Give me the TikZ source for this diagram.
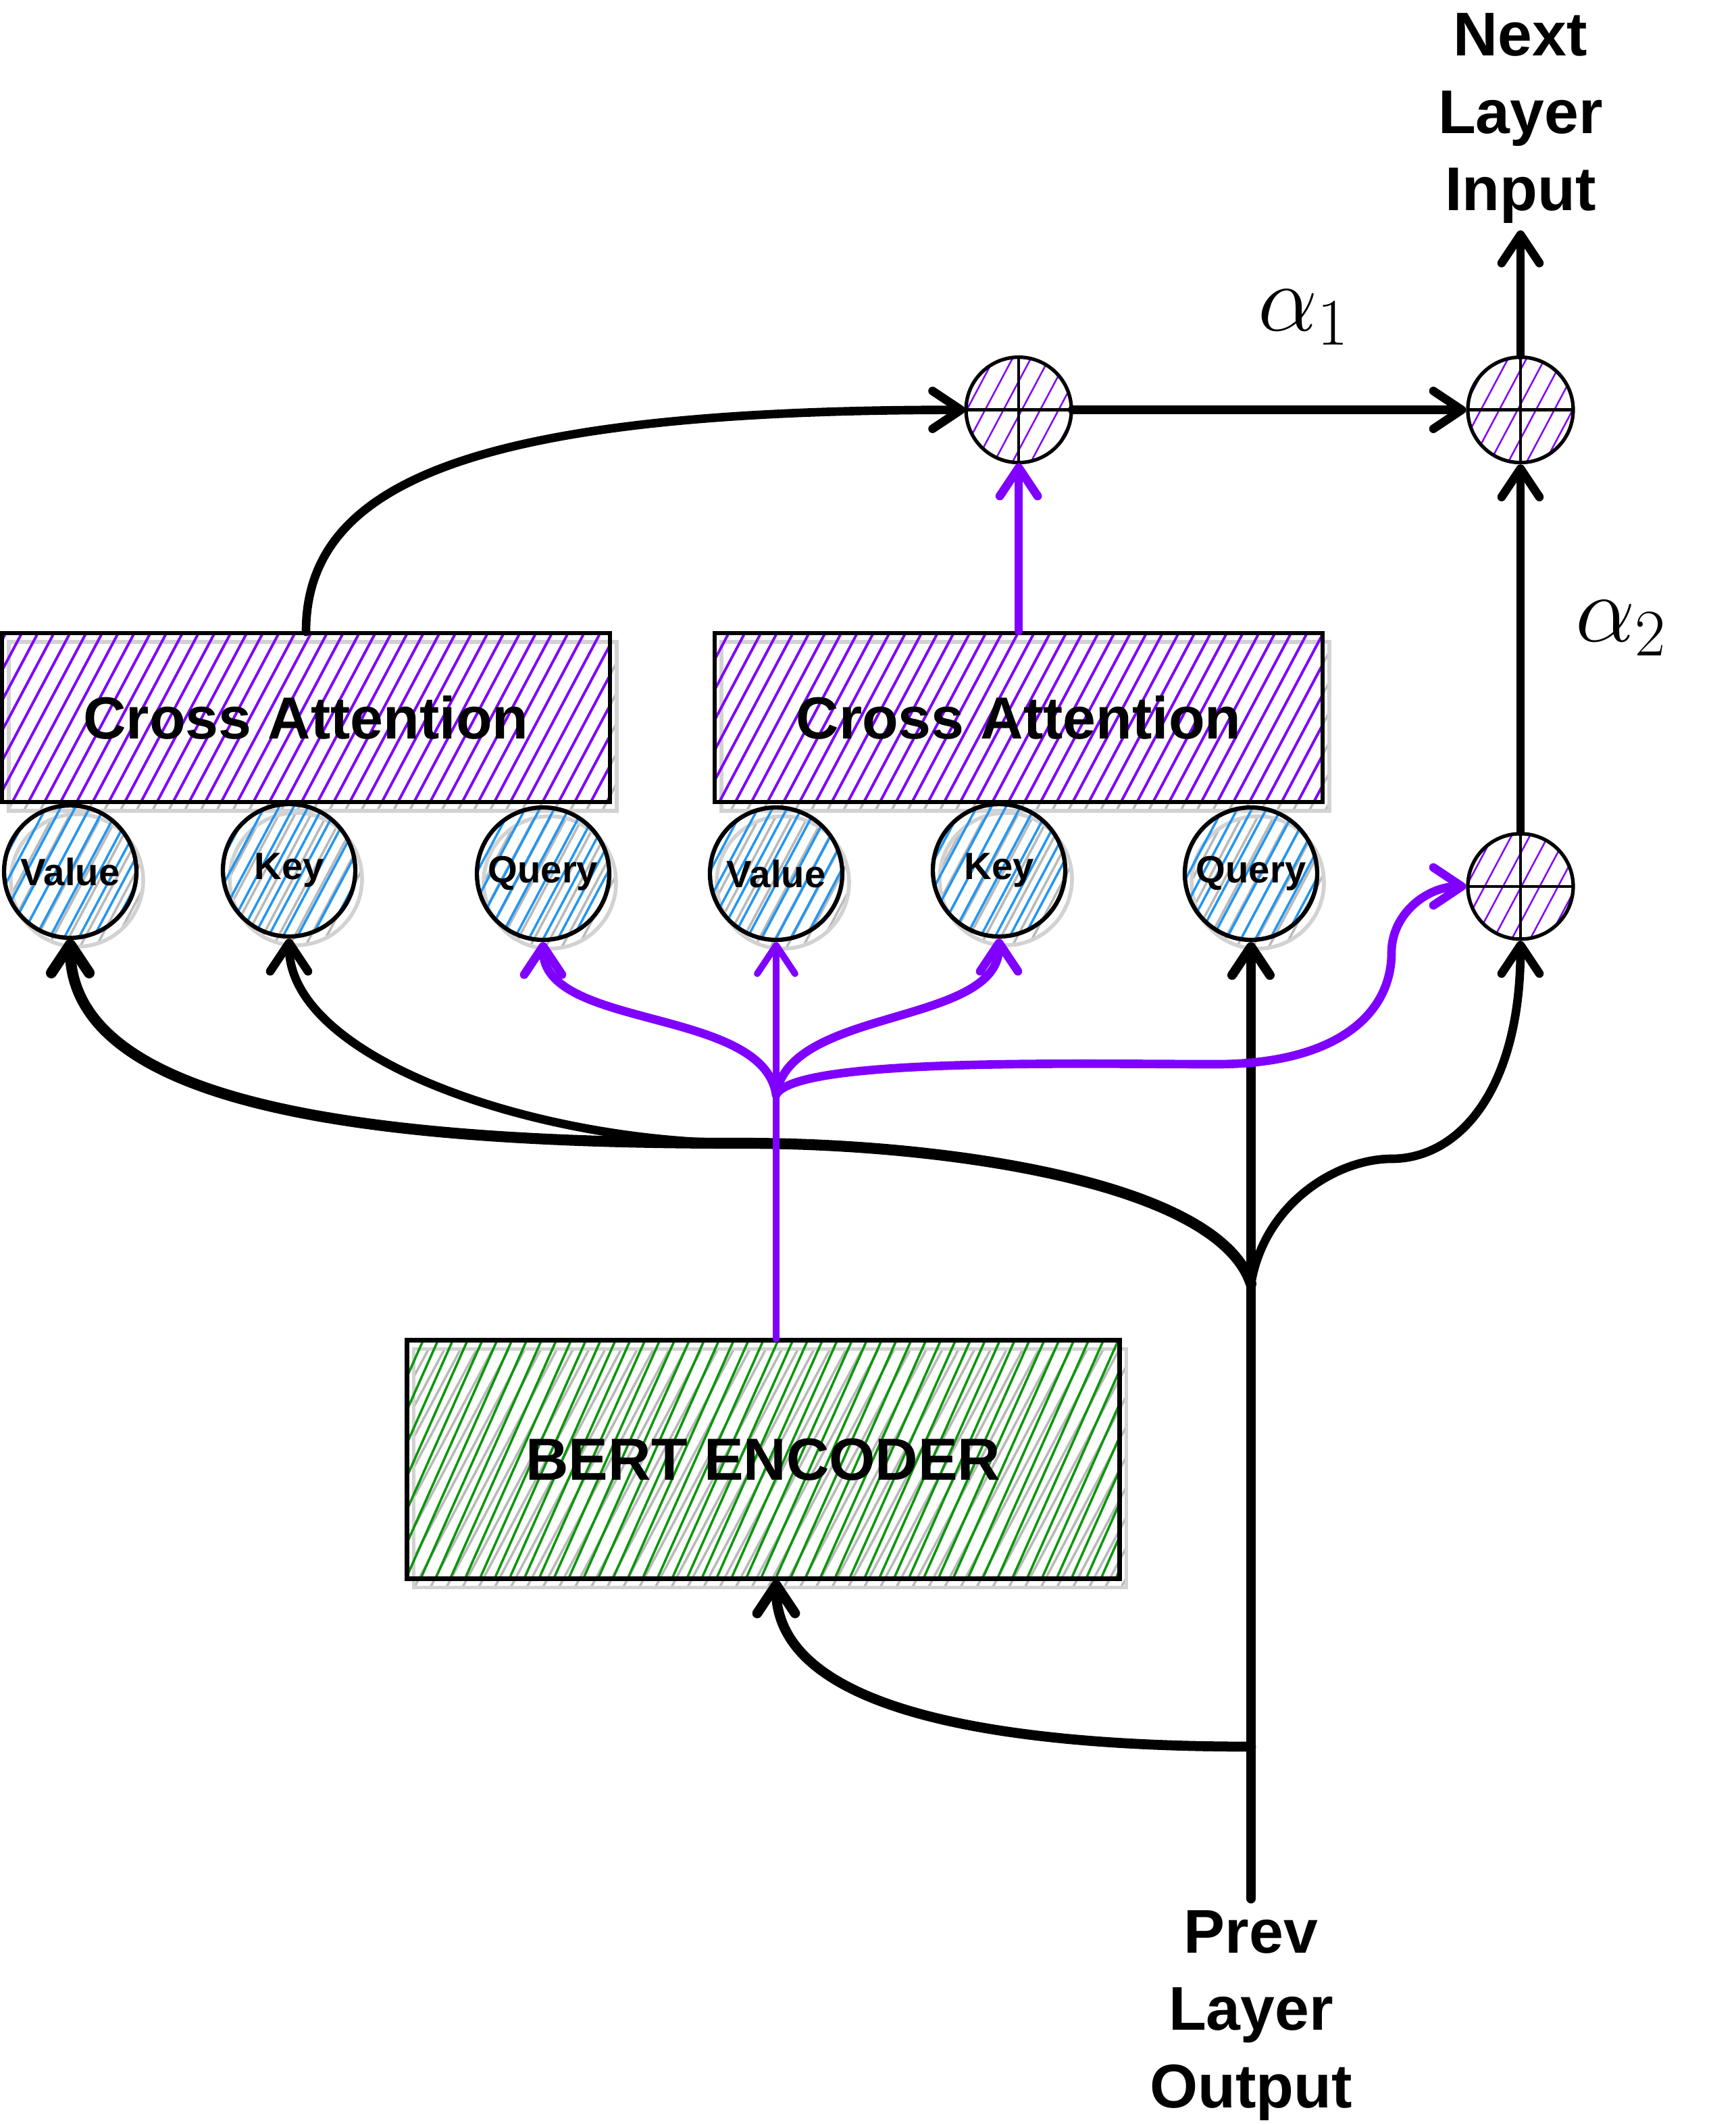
\RequirePackage{fix-cm}
\documentclass[tikz,border=0pt]{standalone}
\usepackage[no-math]{fontspec}
\setmainfont{Liberation Sans}
\usetikzlibrary{arrows.meta, positioning, calc, shadows, patterns.meta}

\definecolor{attnviolet}{HTML}{7F00FF}
\definecolor{qkvblue}{HTML}{2196F3}
\definecolor{bertgreen}{HTML}{0A960A}

\begin{document}
\begin{tikzpicture}[
    >={Straight Barb[length=4.2mm, width=5.6mm, round]},
    font=\bfseries,
    hatchshadow/.style={general shadow={shadow xshift=0.1cm, shadow yshift=-0.13cm, draw=gray!35, line width=1.6pt, pattern={Lines[angle=62, distance=0.21cm, line width=1pt]}, pattern color=gray!55}},
    attn/.style={rectangle, draw=black, line width=1.8pt, minimum width=9cm, minimum height=2.5cm, pattern={Lines[angle=62, distance=0.21cm, line width=1.1pt]}, pattern color=attnviolet, hatchshadow, font=\bfseries\fontsize{25}{30}\selectfont},
    encoder/.style={rectangle, draw=black, line width=1.8pt, minimum width=10.55cm, minimum height=3.53cm, pattern={Lines[angle=66, distance=0.2cm, line width=1pt]}, pattern color=bertgreen, hatchshadow, font=\bfseries\fontsize{25}{30}\selectfont},
    qkv/.style={circle, draw=black, line width=1.8pt, minimum size=1.96cm, inner sep=0pt, pattern={Lines[angle=62, distance=0.19cm, line width=1pt]}, pattern color=qkvblue, hatchshadow, font=\bfseries\fontsize{16}{19}\selectfont},
    plusnode/.style={circle, draw=black, line width=1.5pt, minimum size=1.56cm, inner sep=0pt, pattern={Lines[angle=62, distance=0.24cm, line width=0.7pt]}, pattern color=attnviolet, path picture={\draw[line width=1.3pt] (path picture bounding box.north) -- (path picture bounding box.south) (path picture bounding box.west) -- (path picture bounding box.east);}},
    termtext/.style={align=center, inner sep=0.1cm, font=\bfseries\fontsize{26}{32.5}\selectfont},
    weight/.style={font=\fontsize{40}{48}\selectfont},
    arrow/.style={->, line width=3.6pt, draw=black, line cap=round},
    parrow/.style={->, line width=3.6pt, draw=attnviolet, line cap=round}
]
\useasboundingbox (0,0) rectangle (25.7,-31.45);

% ---- Attention blocks ----
\node[attn] (ca1) at (4.53,-10.62) {Cross Attention};
\node[attn, right=1.5cm of ca1] (ca2) {Cross Attention};

% ---- Value / Key / Query inputs ----
\node[qkv] (value1) at (1.04,-12.9) {Value};
\node[qkv] (key1) at (4.28,-12.88) {Key};
\node[qkv] (query1) at (8.04,-12.93) {Query};
\node[qkv] (value2) at (11.49,-12.93) {Value};
\node[qkv] (key2) at (14.79,-12.88) {Key};
\node[qkv] (query2) at (18.52,-12.93) {Query};

% ---- Encoder ----
\node[encoder] (bert) at (11.3,-21.6) {BERT ENCODER};

% ---- Weighted sums ----
\node[plusnode, above=2.48cm of ca2] (plus1) {};
\node[plusnode, right=5.83cm of plus1] (plus2) {};
\node[plusnode, below=5.44cm of plus2] (plus3) {};

\node[weight] (alphaone) at (19.3,-4.7) {$\alpha_1$};
\node[weight] (alphatwo) at (24.0,-9.3) {$\alpha_2$};

% ---- Layer in / out ----
\node[termtext, above=1.85cm of plus2] (nextin) {Next\\Layer\\Input};
\node[termtext, anchor=north, inner sep=0.17cm] (prevout) at (query2 |- 0,-28.1) {Prev\\Layer\\Output};

% ---- Branch points ----
\coordinate (ksplit) at (18.52,-19.0);
\coordinate (bsplit) at (18.52,-25.85);
\coordinate (kmid) at (11.0,-16.92);
\coordinate (kright) at (20.6,-17.15);
\coordinate (psplit) at (11.49,-16.2);
\coordinate (pbend) at (18.0,-15.75);
\coordinate (pturn) at (20.6,-14.1);

% ---- Connections: previous layer output ----
\draw[arrow, line width=4pt] (prevout.north) -- (query2.south);
\draw[arrow, line width=4.2pt] (bsplit) .. controls +(-3.5,0) and +(0,-2.0) .. (value2 |- bert.south);
\draw[arrow, line width=4.6pt] (ksplit) .. controls +(-0.5,1.5) and +(3,0) .. (kmid) .. controls +(-5,0) and +(0,-2.6) .. (value1.south);
\draw[arrow] (kmid) .. controls +(-3,0) and +(0,-1.8) .. (key1.south);
\draw[arrow] (ksplit) .. controls +(0.2,1.2) and +(-0.8,0) .. (kright) .. controls +(1.0,0) and +(0,-2.2) .. (plus3.south);

% ---- Connections: encoder output ----
\draw[parrow, line width=2.8pt] (value2 |- bert.north) -- (value2.south);
\draw[parrow] (psplit) .. controls +(-0.2,1.3) and +(0,-1.3) .. (query1.south);
\draw[parrow] (psplit) .. controls +(0.2,1.3) and +(0,-1.3) .. (key2.south);
\draw[parrow] (psplit) .. controls +(0.3,0.55) and +(-2,0) .. (pbend) .. controls +(1.8,0) and +(0,-0.9) .. (pturn) to[out=90, in=180] (plus3.west);

% ---- Connections: mixing ----
\draw[arrow] (ca1.north) .. controls +(0,2.2) and +(-7.3,0) .. (plus1.west);
\draw[parrow] (ca2.north) -- (plus1.south);
\draw[arrow] (plus1.east) -- (plus2.west);
\draw[arrow] (plus3.north) -- (plus2.south);
\draw[arrow] (plus2.north) -- (nextin.south);

\end{tikzpicture}
\end{document}
